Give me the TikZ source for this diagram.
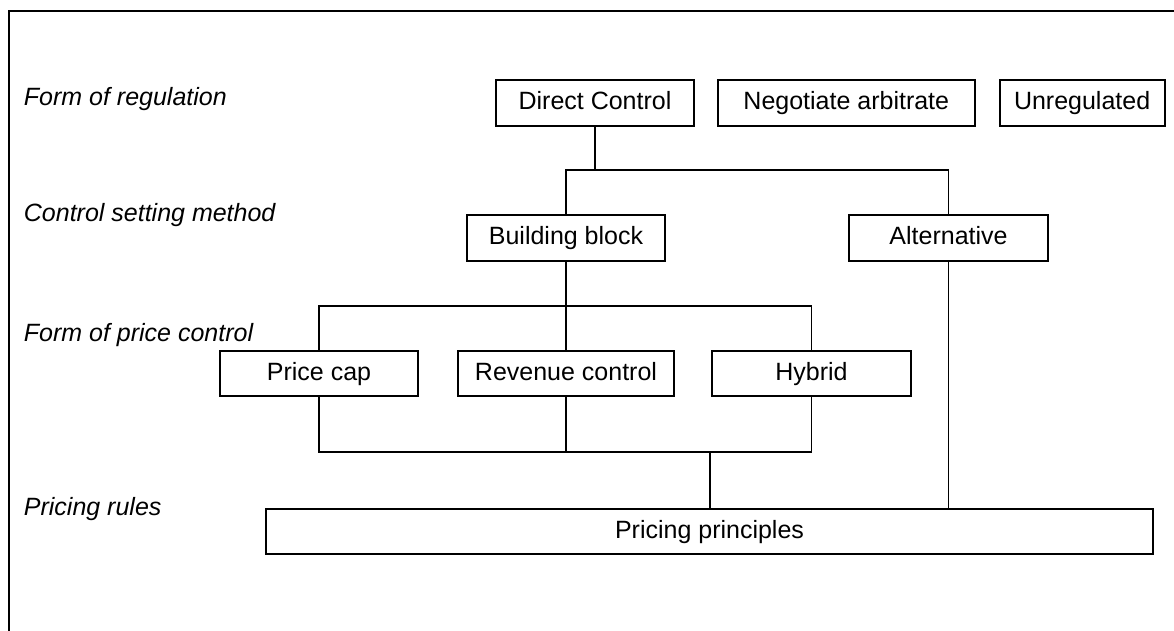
\documentclass[tikz,border=0pt]{standalone}
\usepackage{fontspec}
\setmainfont{Liberation Sans}
\usetikzlibrary{positioning}

\begin{document}
\begin{tikzpicture}[x=1pt,y=-1pt,line width=1.8pt,node distance=22pt,
    box/.style={draw,minimum height=46pt,inner sep=0pt,text height=18pt,text depth=5pt,
      font=\fontsize{25}{30}\selectfont},
    lvl/.style={anchor=west,inner sep=0pt,font=\fontsize{25}{30}\selectfont\itshape}]

  \useasboundingbox (0,0) rectangle (1174,631);
  \draw (1174,11) -- (9,11) -- (9,631);

  % levels
  \node[lvl] (l1) at (23,99)  {Form of regulation};
  \node[lvl] (l2) at (23,215) {Control setting method};
  \node[lvl] (l3) at (23,335) {Form of price control};
  \node[lvl] (l4) at (23,509) {Pricing rules};

  \node[box,minimum width=198pt] (dc) at (595,103)    {Direct Control};
  \node[box,minimum width=257pt] (na) [right=of dc]   {Negotiate arbitrate};
  \node[box,minimum width=165pt] (un) [right=23pt of na] {Unregulated};

  \node[box,minimum width=198pt] (bb)  at (566,238)   {Building block};
  \node[box,minimum width=199pt] (alt) at (948.5,238) {Alternative};

  \node[box,minimum width=198pt,minimum height=45pt] (pc) at (319,373.5)   {Price cap};
  \node[box,minimum width=216pt,minimum height=45pt] (rc) at (566,373.5)   {Revenue control};
  \node[box,minimum width=199pt,minimum height=45pt] (hy) at (811.5,373.5) {Hybrid};

  \node[box,minimum width=887pt,minimum height=45pt] (pp) at (709.5,531.5) {Pricing principles};

  \coordinate (j1) at (595,170);
  \coordinate (j2) at (566,306);
  \coordinate (j3) at (710,452);

  \draw (dc) -- (j1);
  \draw (bb) -- (bb |- j1) -- (alt |- j1) -- (alt);
  \draw (bb) -- (j2);
  \draw (pc) -- (pc |- j2) -- (hy |- j2) -- (hy);
  \draw (rc) -- (j2);
  \draw (pc) -- (pc |- j3) -- (hy |- j3) -- (hy);
  \draw (rc) -- (rc |- j3);
  \draw (j3) -- (j3 |- pp.north);
  \draw (alt) -- (alt |- pp.north);
\end{tikzpicture}
\end{document}
